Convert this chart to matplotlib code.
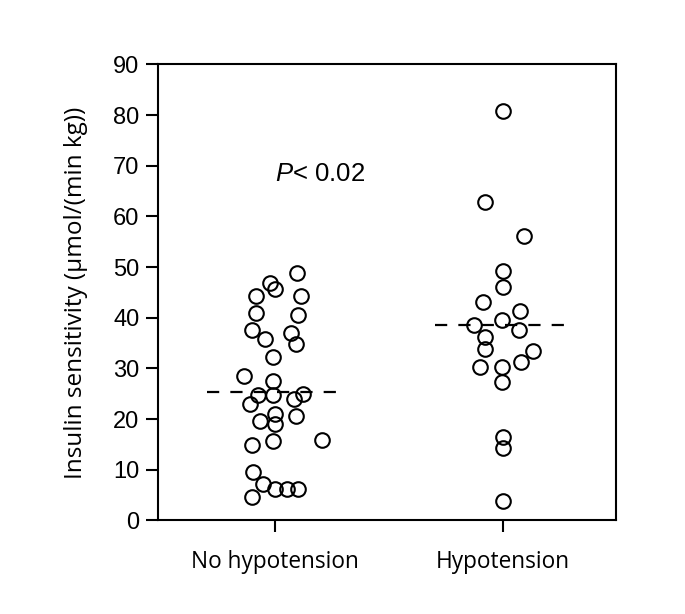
import matplotlib.pyplot as plt

plt.rcParams["mathtext.fontset"] = "custom"
plt.rcParams["mathtext.it"] = "Liberation Sans:italic"
plt.rcParams["mathtext.rm"] = "Liberation Sans"

groups = ["No hypotension", "Hypotension"]

no_hypo_values = [48.8, 46.8, 45.7, 44.4, 44.4, 40.9, 40.6, 37.6, 37.0, 35.9, 34.9,
                  32.2, 28.6, 27.6, 24.7, 24.7, 25.0, 24.0, 23.0, 19.7, 21.1, 19.1,
                  20.6, 14.8, 15.6, 15.9, 9.5, 4.6, 7.2, 6.3, 6.3, 6.3]
no_hypo_jitter = [0.095, -0.022, 0.0, -0.083, 0.113, -0.083, 0.099, -0.102, 0.070,
                  -0.044, 0.091, -0.010, -0.136, -0.007, -0.073, -0.007, 0.124, 0.085,
                  -0.110, -0.066, 0.0, 0.0, 0.091, -0.102, -0.007, 0.205, -0.095,
                  -0.102, -0.051, 0.0, 0.051, 0.102]

hypo_values = [80.8, 62.8, 56.2, 49.3, 46.0, 43.1, 41.4, 38.5, 39.5, 37.5, 36.3,
               33.9, 33.5, 31.2, 30.3, 30.3, 27.3, 16.4, 14.3, 3.9]
hypo_jitter = [0.0, -0.080, 0.092, 0.0, 0.0, -0.088, 0.073, -0.127, -0.007, 0.069,
               -0.080, -0.080, 0.131, 0.080, -0.102, -0.007, -0.007, 0.0, 0.0, 0.0]

medians = [25.4, 38.6]
y_ticks = [0, 10, 20, 30, 40, 50, 60, 70, 80, 90]
p_text = r"$\mathit{P}$< 0.02"

fig = plt.figure(figsize=(6.85, 6.14), dpi=100)
ax = fig.add_axes([0.2307, 0.1523, 0.6685, 0.7427])

series = [(no_hypo_values, no_hypo_jitter), (hypo_values, hypo_jitter)]
for i, (vals, jit) in enumerate(series):
    xpos = [i + 1 + j for j in jit]
    ax.plot(xpos, vals, "o", ms=10.5, mfc="none", mec="black", mew=1.5, zorder=3)
    ax.plot([i + 1 - 0.3, i + 1 + 0.3], [medians[i], medians[i]], color="black",
            lw=1.6, dashes=(5.5, 5), zorder=2)

ax.text(1.0, 68.3, p_text, fontsize=18.5, family="Liberation Sans", ha="left", va="center")

ax.set_xlim(0.487, 2.494)
ax.set_ylim(0, 90)
ax.set_xticks([1, 2])
ax.set_xticklabels(groups, family="Open Sans", fontsize=16.3)
ax.set_yticks(y_ticks)
ax.set_yticklabels([str(t) for t in y_ticks], family="Liberation Sans", fontsize=17)
ax.set_ylabel("Insulin sensitivity (\u00b5mol/(min kg))", family="Open Sans",
              fontsize=17.5, labelpad=18)

for s in ax.spines.values():
    s.set_linewidth(1.5)
ax.tick_params(direction="out", length=8.5, width=1.5, pad=5)
ax.tick_params(axis="x", pad=13)

fig.savefig("out.png", dpi=100)
